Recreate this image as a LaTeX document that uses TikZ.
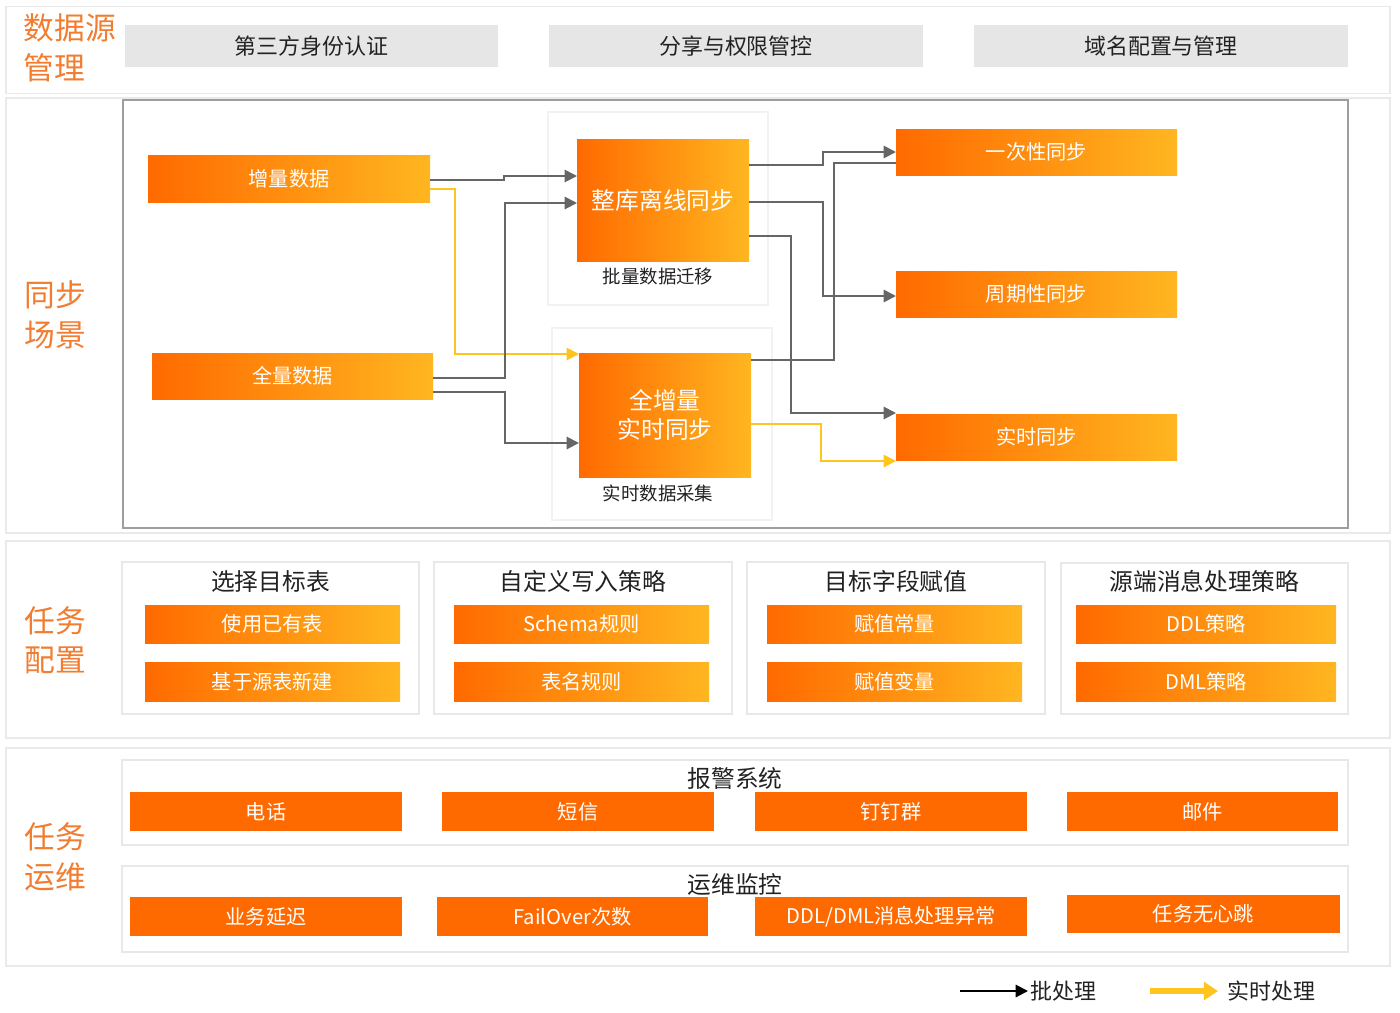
\documentclass[tikz,border=0pt]{standalone}
\usepackage{fontspec}
\setmainfont{Noto Sans CJK SC}
\usepackage{tikz}
\usetikzlibrary{arrows.meta, positioning, calc}
\definecolor{titleorange}{RGB}{242, 125, 48}
\definecolor{orangeL}{RGB}{255, 106, 0}
\definecolor{orangeR}{RGB}{255, 182, 32}
\definecolor{lineyellow}{RGB}{255, 196, 30}
\definecolor{linegray}{RGB}{102, 102, 102}
\definecolor{tagfill}{RGB}{230, 230, 230}
\definecolor{bandline}{RGB}{234, 234, 234}
\definecolor{textdark}{RGB}{34, 34, 34}

\tikzset{
  sz/.style 2 args={minimum width=#1*0.02cm, minimum height=#2*0.02cm},
  secband/.style={draw=bandline, line width=1pt, fill=white, inner sep=0pt, outer sep=0pt},
  sectitle/.style={text=titleorange, align=left, font=\fontsize{17.5}{22.5}\selectfont},
  tagbox/.style={fill=tagfill, inner sep=0pt, outer sep=0pt, text=textdark, font=\fontsize{12.5}{15}\selectfont},
  orbox/.style={left color=orangeL, right color=orangeR, inner sep=0pt, outer sep=0pt, text=white, font=\fontsize{11.5}{14}\selectfont},
  bigbox/.style={orbox, align=center, font=\fontsize{13.5}{16.5}\selectfont},
  alarmbox/.style={fill=orangeL, inner sep=0pt, outer sep=0pt, text=white, font=\fontsize{11.5}{14}\selectfont},
  panel/.style={draw=black!5, line width=1pt, fill=white, inner sep=0pt, outer sep=0pt},
  card/.style={draw=black!9, line width=1.2pt, fill=white, inner sep=0pt, outer sep=0pt},
  cardtitle/.style={text=textdark, font=\fontsize{13.5}{16}\selectfont},
  capt/.style={text=textdark, font=\fontsize{10.5}{13}\selectfont},
  batchln/.style={draw=linegray, line width=1.1pt, -{Triangle[length=7pt, width=7pt]}},
  rtln/.style={draw=lineyellow, line width=1.1pt, -{Triangle[length=7pt, width=7pt]}}
}

\begin{document}
\begin{tikzpicture}[x=0.02cm, y=-0.02cm]
  \useasboundingbox[fill=white] (0,0) rectangle (1400,1012);

  % Data source management
  \node[secband, sz={1384}{87}] (bandA) at (698,50) {};
  \node[sectitle] (tA) at (70,48) {数据源\\管理};
  \node[tagbox, sz={373}{42}] (auth) at (311.5,46) {第三方身份认证};
  \node[tagbox, sz={374}{42}] (share) at (736,46) {分享与权限管控};
  \node[tagbox, sz={374}{42}] (domain) at (1161,46) {域名配置与管理};

  % Sync scenarios
  \node[secband, sz={1384}{435}] (bandB) at (698,315.5) {};
  \node[draw=black!38, line width=1pt, inner sep=0pt, sz={1225}{428}] (frame) at (735.5,314) {};
  \node[sectitle] (tB) at (55,315) {同步\\场景};

  \node[orbox, sz={282}{47}] (incr) at (289,178.5) {增量数据};
  \node[orbox, sz={281}{46}] (full) at (292.5,376) {全量数据};

  \node[panel, sz={220}{193}] (panelOff) at (658,208.5) {};
  \node[bigbox, sz={172}{122}] (off) at (663,200) {整库离线同步};
  \node[capt] (capOff) at (658,277) {批量数据迁移};

  \node[panel, sz={220}{192}] (panelRt) at (662,424) {};
  \node[bigbox, sz={172}{124}] (rt) at (665,415) {全增量\\实时同步};
  \node[capt] (capRt) at (658,493) {实时数据采集};

  \node[orbox, sz={281}{46}] (once) at (1036.5,152) {一次性同步};
  \node[orbox, sz={281}{46}] (period) at (1036.5,294) {周期性同步};
  \node[orbox, sz={281}{46}] (realt) at (1036.5,437) {实时同步};

  % Sources to sync modes
  \draw[batchln] ($(incr.east)+(0,1.5)$) -- ++(74,0) |- ($(off.west)+(0,-24)$);
  \draw[rtln] ($(incr.east)+(0,10.5)$) -- ++(25,0) |- ($(rt.north west)+(0,1)$);
  \draw[batchln] ($(full.east)+(0,2)$) -- ++(72,0) |- ($(off.west)+(0,3)$);
  \draw[batchln] ($(full.east)+(0,16)$) -- ++(72,0) |- ($(rt.west)+(0,28)$);

  % Sync modes to scenarios
  \draw[batchln] ($(off.east)+(0,-35)$) -- ++(74,0) |- (once.west);
  \draw[batchln] ($(off.east)+(0,2)$) -- ++(74,0) |- ($(period.west)+(0,2)$);
  \draw[batchln] ($(off.east)+(0,36)$) -- ++(42,0) |- ($(realt.west)+(0,-24)$);
  \draw[draw=linegray, line width=1.1pt] ($(rt.east)+(0,-55)$) -- ++(83,0) |- ($(once.west)+(0,11)$);
  \draw[rtln] ($(rt.east)+(0,9)$) -- ++(70,0) |- ($(realt.west)+(0,24)$);

  % Task configuration
  \node[secband, sz={1384}{197}] (bandC) at (698,639.5) {};
  \node[sectitle] (tC) at (55,640) {任务\\配置};

  \node[card, sz={297}{152}] (cardTbl) at (270.5,638) {};
  \node[cardtitle] (hTbl) at (270.5,581) {选择目标表};
  \node[orbox, sz={255}{38}] (useTbl) at (272.5,624) {使用已有表};
  \node[orbox, sz={255}{39}] (newTbl) at (272.5,681.5) {基于源表新建};

  \node[card, sz={298}{152}] (cardWr) at (583,638) {};
  \node[cardtitle] (hWr) at (583,581) {自定义写入策略};
  \node[orbox, sz={255}{38}] (schema) at (581.5,624) {Schema规则};
  \node[orbox, sz={255}{39}] (tname) at (581.5,681.5) {表名规则};

  \node[card, sz={298}{152}] (cardFld) at (896,638) {};
  \node[cardtitle] (hFld) at (896,581) {目标字段赋值};
  \node[orbox, sz={255}{38}] (const) at (894.5,624) {赋值常量};
  \node[orbox, sz={255}{39}] (var) at (894.5,681.5) {赋值变量};

  \node[card, sz={287}{151}] (cardMsg) at (1204.5,638.5) {};
  \node[cardtitle] (hMsg) at (1204.5,581) {源端消息处理策略};
  \node[orbox, sz={260}{38}] (ddl) at (1206,624) {DDL策略};
  \node[orbox, sz={260}{39}] (dml) at (1206,681.5) {DML策略};

  % Task operations
  \node[secband, sz={1384}{218}] (bandD) at (698,857) {};
  \node[sectitle] (tD) at (55,857) {任务\\运维};

  \node[card, sz={1226}{85}] (cardAlarm) at (735,802.5) {};
  \node[cardtitle] (hAlarm) at (735,778) {报警系统};
  \node[alarmbox, sz={272}{39}] (phone) at (266,811.5) {电话};
  \node[alarmbox, sz={272}{39}] (sms) at (578,811.5) {短信};
  \node[alarmbox, sz={272}{39}] (ding) at (891,811.5) {钉钉群};
  \node[alarmbox, sz={271}{39}] (mail) at (1202.5,811.5) {邮件};

  \node[card, sz={1226}{86}] (cardMon) at (735,909) {};
  \node[cardtitle] (hMon) at (735,885) {运维监控};
  \node[alarmbox, sz={272}{39}] (delay) at (266,916.5) {业务延迟};
  \node[alarmbox, sz={271}{39}] (failover) at (572.5,916.5) {FailOver次数};
  \node[alarmbox, sz={272}{39}] (msgerr) at (891,916.5) {DDL/DML消息处理异常};
  \node[alarmbox, sz={273}{38}] (hbeat) at (1203.5,914) {任务无心跳};

  % Legend
  \coordinate (lgA) at (960,991);
  \coordinate (lgB) at (1028,991);
  \draw[black, line width=1.2pt, -{Triangle[length=7pt, width=7pt]}] (lgA) -- (lgB);
  \node[right=1pt of lgB, inner sep=0pt, text=textdark, font=\fontsize{12.5}{15}\selectfont] (lgBatch) {批处理};
  \coordinate (lgC) at (1150,991);
  \coordinate (lgD) at (1218,991);
  \draw[lineyellow, line width=3pt, -{Triangle[length=8pt, width=10pt]}] (lgC) -- (lgD);
  \node[right=5pt of lgD, inner sep=0pt, text=textdark, font=\fontsize{12.5}{15}\selectfont] (lgRt) {实时处理};
\end{tikzpicture}
\end{document}
